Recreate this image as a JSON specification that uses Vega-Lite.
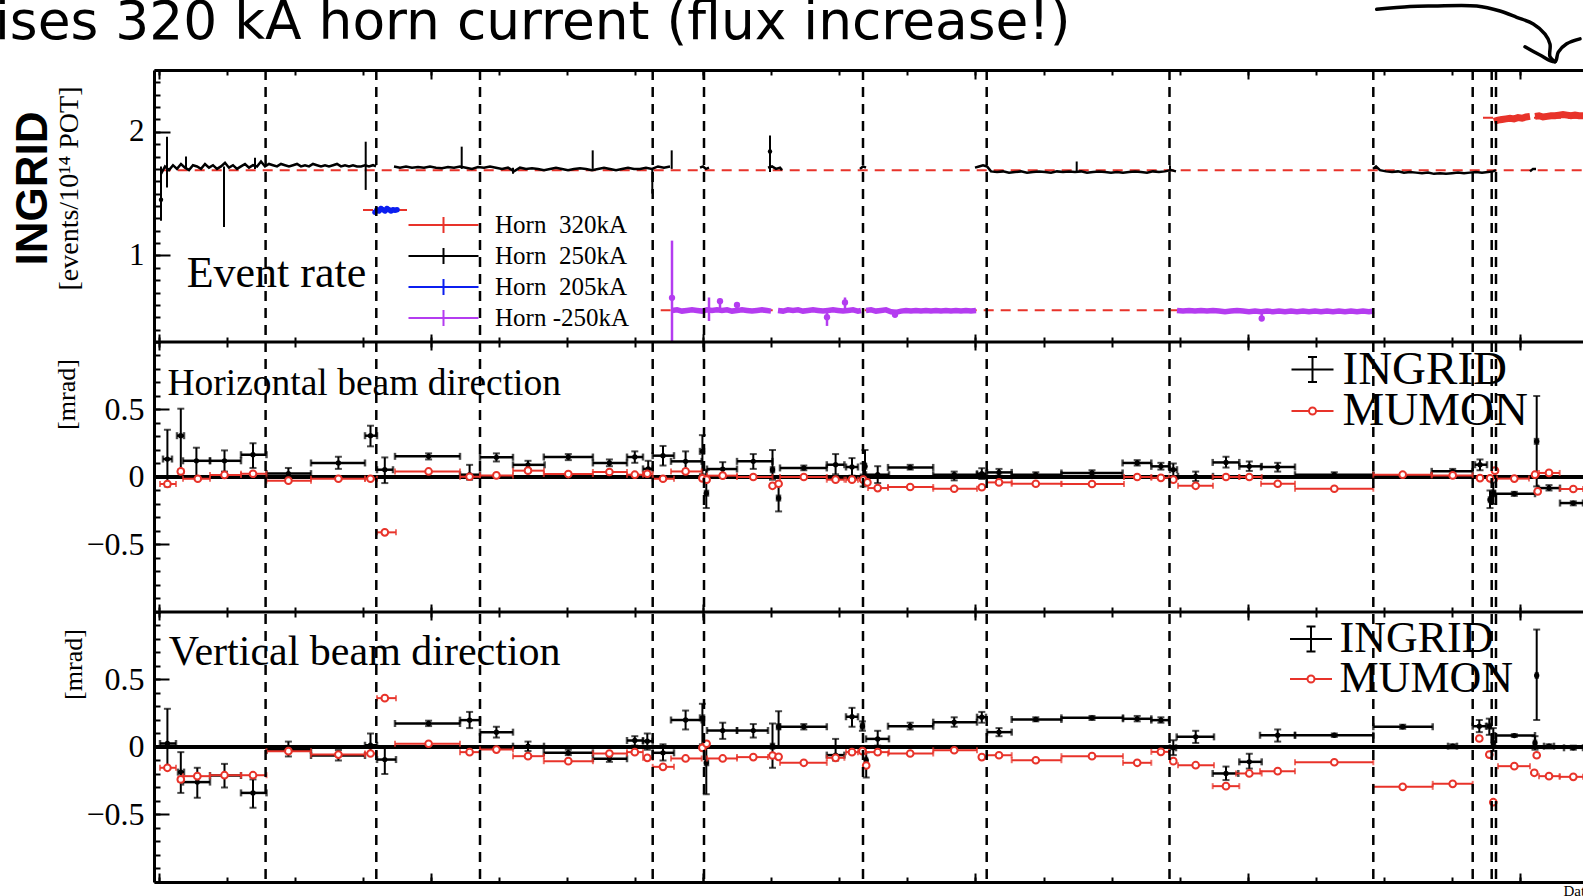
{
"$schema":"https://vega.github.io/schema/vega-lite/v6.json",
"width":1429,"height":812,
"autosize":{"type":"none"},
"padding":{"left":154,"top":70,"right":0,"bottom":14},
"background":"white",
"config":{"view":{"stroke":null},"axis":{"grid":false,"labelFont":"Liberation Serif","labelColor":"black","tickColor":"black","domainColor":"black","titleColor":"black"},"legend":{"labelFont":"Liberation Serif","labelColor":"black"}},
"datasets":{
"one":[{}],
"vlines":[{"day":111.6},{"day":222.3},{"day":326},{"day":498.7},{"day":550},{"day":709},{"day":832.7},{"day":1015.5},{"day":1219.3},{"day":1318.7},{"day":1337.7},{"day":1342}],
"levels":[{"day":6.7,"day2":1429,"rate":1.69},{"day":506.7,"day2":1220,"rate":0.557},{"day":209,"day2":253,"rate":1.368},{"day":1329,"day2":1429,"rate":2.114}],
"r250":[
{"seg":"A","day":7,"rate":1.66},{"seg":"A","day":11,"rate":1.72},{"seg":"A","day":15,"rate":1.69},{"seg":"A","day":19,"rate":1.73},{"seg":"A","day":23,"rate":1.70},{"seg":"A","day":27,"rate":1.74},{"seg":"A","day":31,"rate":1.71},{"seg":"A","day":35,"rate":1.69},{"seg":"A","day":39,"rate":1.73},{"seg":"A","day":43,"rate":1.72},{"seg":"A","day":47,"rate":1.70},{"seg":"A","day":51,"rate":1.74},{"seg":"A","day":55,"rate":1.71},{"seg":"A","day":59,"rate":1.73},{"seg":"A","day":63,"rate":1.70},{"seg":"A","day":67,"rate":1.72},{"seg":"A","day":71,"rate":1.75},{"seg":"A","day":75,"rate":1.71},{"seg":"A","day":79,"rate":1.73},{"seg":"A","day":83,"rate":1.70},{"seg":"A","day":87,"rate":1.72},{"seg":"A","day":91,"rate":1.74},{"seg":"A","day":95,"rate":1.71},{"seg":"A","day":99,"rate":1.73},{"seg":"A","day":103,"rate":1.72},{"seg":"A","day":107,"rate":1.76},{"seg":"A","day":111,"rate":1.72},{"seg":"A","day":115,"rate":1.74},{"seg":"A","day":119,"rate":1.73},{"seg":"A","day":123,"rate":1.72},{"seg":"A","day":127,"rate":1.74},{"seg":"A","day":131,"rate":1.73},{"seg":"A","day":135,"rate":1.72},{"seg":"A","day":139,"rate":1.73},{"seg":"A","day":143,"rate":1.74},{"seg":"A","day":147,"rate":1.72},{"seg":"A","day":151,"rate":1.73},{"seg":"A","day":155,"rate":1.72},{"seg":"A","day":159,"rate":1.74},{"seg":"A","day":163,"rate":1.73},{"seg":"A","day":167,"rate":1.72},{"seg":"A","day":171,"rate":1.73},{"seg":"A","day":175,"rate":1.72},{"seg":"A","day":179,"rate":1.73},{"seg":"A","day":183,"rate":1.74},{"seg":"A","day":187,"rate":1.72},{"seg":"A","day":191,"rate":1.73},{"seg":"A","day":195,"rate":1.72},{"seg":"A","day":199,"rate":1.73},{"seg":"A","day":203,"rate":1.72},{"seg":"A","day":207,"rate":1.72},{"seg":"A","day":211,"rate":1.73},{"seg":"A","day":215,"rate":1.72},{"seg":"A","day":219,"rate":1.73},{"seg":"A","day":222,"rate":1.72},
{"seg":"B","day":240,"rate":1.72},{"seg":"B","day":246,"rate":1.71},{"seg":"B","day":252,"rate":1.72},{"seg":"B","day":258,"rate":1.71},{"seg":"B","day":264,"rate":1.715},{"seg":"B","day":270,"rate":1.71},{"seg":"B","day":276,"rate":1.72},{"seg":"B","day":282,"rate":1.71},{"seg":"B","day":288,"rate":1.705},{"seg":"B","day":294,"rate":1.715},{"seg":"B","day":300,"rate":1.71},{"seg":"B","day":306,"rate":1.72},{"seg":"B","day":312,"rate":1.71},{"seg":"B","day":318,"rate":1.70},{"seg":"B","day":324,"rate":1.715},{"seg":"B","day":330,"rate":1.71},{"seg":"B","day":336,"rate":1.72},{"seg":"B","day":342,"rate":1.71},{"seg":"B","day":348,"rate":1.70},{"seg":"B","day":354,"rate":1.71},{"seg":"B","day":360,"rate":1.68},{"seg":"B","day":366,"rate":1.71},{"seg":"B","day":372,"rate":1.70},{"seg":"B","day":378,"rate":1.705},{"seg":"B","day":384,"rate":1.70},{"seg":"B","day":390,"rate":1.69},{"seg":"B","day":396,"rate":1.70},{"seg":"B","day":402,"rate":1.71},{"seg":"B","day":408,"rate":1.70},{"seg":"B","day":414,"rate":1.69},{"seg":"B","day":420,"rate":1.70},{"seg":"B","day":426,"rate":1.705},{"seg":"B","day":432,"rate":1.70},{"seg":"B","day":438,"rate":1.69},{"seg":"B","day":444,"rate":1.70},{"seg":"B","day":450,"rate":1.71},{"seg":"B","day":456,"rate":1.70},{"seg":"B","day":462,"rate":1.69},{"seg":"B","day":468,"rate":1.70},{"seg":"B","day":474,"rate":1.71},{"seg":"B","day":480,"rate":1.70},{"seg":"B","day":486,"rate":1.70},{"seg":"B","day":492,"rate":1.71},{"seg":"B","day":498,"rate":1.70},{"seg":"B","day":504,"rate":1.72},{"seg":"B","day":510,"rate":1.71},{"seg":"B","day":516,"rate":1.72},
{"seg":"C","day":546,"rate":1.71},{"seg":"C","day":549,"rate":1.72},{"seg":"C","day":552,"rate":1.70},{"seg":"C","day":555,"rate":1.71},
{"seg":"D","day":614,"rate":1.71},{"seg":"D","day":618,"rate":1.72},{"seg":"D","day":622,"rate":1.70},{"seg":"D","day":626,"rate":1.71},{"seg":"D","day":628,"rate":1.69},
{"seg":"E","day":706,"rate":1.70},{"seg":"E","day":709,"rate":1.72},{"seg":"E","day":712,"rate":1.71},
{"seg":"F","day":821,"rate":1.71},{"seg":"F","day":825,"rate":1.72},{"seg":"F","day":829,"rate":1.73},{"seg":"F","day":833,"rate":1.72},{"seg":"F","day":837,"rate":1.68},{"seg":"F","day":843,"rate":1.675},{"seg":"F","day":849,"rate":1.68},{"seg":"F","day":855,"rate":1.67},{"seg":"F","day":861,"rate":1.675},{"seg":"F","day":867,"rate":1.68},{"seg":"F","day":873,"rate":1.67},{"seg":"F","day":879,"rate":1.675},{"seg":"F","day":885,"rate":1.68},{"seg":"F","day":891,"rate":1.675},{"seg":"F","day":897,"rate":1.67},{"seg":"F","day":903,"rate":1.68},{"seg":"F","day":909,"rate":1.675},{"seg":"F","day":915,"rate":1.68},{"seg":"F","day":921,"rate":1.675},{"seg":"F","day":927,"rate":1.68},{"seg":"F","day":933,"rate":1.67},{"seg":"F","day":939,"rate":1.675},{"seg":"F","day":945,"rate":1.68},{"seg":"F","day":951,"rate":1.675},{"seg":"F","day":957,"rate":1.67},{"seg":"F","day":963,"rate":1.675},{"seg":"F","day":969,"rate":1.67},{"seg":"F","day":975,"rate":1.675},{"seg":"F","day":981,"rate":1.68},{"seg":"F","day":987,"rate":1.675},{"seg":"F","day":993,"rate":1.67},{"seg":"F","day":999,"rate":1.68},{"seg":"F","day":1005,"rate":1.675},{"seg":"F","day":1011,"rate":1.68},{"seg":"F","day":1017,"rate":1.69},{"seg":"F","day":1022,"rate":1.68},
{"seg":"G","day":1219,"rate":1.70},{"seg":"G","day":1222,"rate":1.72},{"seg":"G","day":1226,"rate":1.69},{"seg":"G","day":1232,"rate":1.68},{"seg":"G","day":1238,"rate":1.675},{"seg":"G","day":1244,"rate":1.68},{"seg":"G","day":1250,"rate":1.67},{"seg":"G","day":1256,"rate":1.675},{"seg":"G","day":1262,"rate":1.67},{"seg":"G","day":1268,"rate":1.665},{"seg":"G","day":1274,"rate":1.67},{"seg":"G","day":1280,"rate":1.66},{"seg":"G","day":1286,"rate":1.665},{"seg":"G","day":1292,"rate":1.66},{"seg":"G","day":1298,"rate":1.665},{"seg":"G","day":1304,"rate":1.67},{"seg":"G","day":1310,"rate":1.665},{"seg":"G","day":1316,"rate":1.67},{"seg":"G","day":1322,"rate":1.675},{"seg":"G","day":1328,"rate":1.67},{"seg":"G","day":1334,"rate":1.675},{"seg":"G","day":1339,"rate":1.68},{"seg":"G","day":1342,"rate":1.69},
{"seg":"H","day":1376,"rate":1.68},{"seg":"H","day":1379,"rate":1.70},{"seg":"H","day":1382,"rate":1.70}],
"sp250":[{"day":7,"lo":1.28,"hi":1.72},{"day":13,"lo":1.55,"hi":1.96},{"day":32,"lo":1.70,"hi":1.80},{"day":70,"lo":1.23,"hi":1.72},{"day":101,"lo":1.70,"hi":1.79},{"day":211.7,"lo":1.53,"hi":1.92},{"day":307.7,"lo":1.70,"hi":1.88},{"day":359,"lo":1.66,"hi":1.71},{"day":438.7,"lo":1.70,"hi":1.85},{"day":498.3,"lo":1.50,"hi":1.70},{"day":517.7,"lo":1.70,"hi":1.85},{"day":616,"lo":1.675,"hi":1.97},{"day":922.7,"lo":1.67,"hi":1.76},{"day":1016,"lo":1.68,"hi":1.73}],
"pt250":[{"day":7,"rate":1.45},{"day":616,"rate":1.84}],
"r205":[{"day":221,"rate":1.35},{"day":223,"rate":1.37},{"day":225,"rate":1.36},{"day":227,"rate":1.38},{"day":229,"rate":1.37},{"day":231,"rate":1.36},{"day":233,"rate":1.38},{"day":235,"rate":1.37},{"day":237,"rate":1.36},{"day":239,"rate":1.37},{"day":241,"rate":1.365},{"day":243,"rate":1.37}],
"rm250":[
{"seg":"P1","day":518,"rate":0.555},{"seg":"P1","day":523,"rate":0.56},{"seg":"P1","day":528,"rate":0.55},{"seg":"P1","day":533,"rate":0.555},{"seg":"P1","day":538,"rate":0.56},{"seg":"P1","day":543,"rate":0.555},{"seg":"P1","day":548,"rate":0.55},{"seg":"P1","day":553,"rate":0.56},{"seg":"P1","day":558,"rate":0.555},{"seg":"P1","day":563,"rate":0.56},{"seg":"P1","day":568,"rate":0.555},{"seg":"P1","day":573,"rate":0.56},{"seg":"P1","day":578,"rate":0.55},{"seg":"P1","day":583,"rate":0.555},{"seg":"P1","day":588,"rate":0.56},{"seg":"P1","day":593,"rate":0.555},{"seg":"P1","day":598,"rate":0.55},{"seg":"P1","day":603,"rate":0.555},{"seg":"P1","day":608,"rate":0.56},{"seg":"P1","day":613,"rate":0.555},{"seg":"P1","day":617,"rate":0.55},
{"seg":"P2","day":624,"rate":0.555},{"seg":"P2","day":629,"rate":0.55},{"seg":"P2","day":634,"rate":0.56},{"seg":"P2","day":639,"rate":0.555},{"seg":"P2","day":644,"rate":0.56},{"seg":"P2","day":649,"rate":0.55},{"seg":"P2","day":654,"rate":0.555},{"seg":"P2","day":659,"rate":0.56},{"seg":"P2","day":664,"rate":0.555},{"seg":"P2","day":669,"rate":0.55},{"seg":"P2","day":674,"rate":0.555},{"seg":"P2","day":679,"rate":0.56},{"seg":"P2","day":684,"rate":0.555},{"seg":"P2","day":689,"rate":0.55},{"seg":"P2","day":694,"rate":0.555},{"seg":"P2","day":699,"rate":0.56},{"seg":"P2","day":704,"rate":0.55},{"seg":"P2","day":707,"rate":0.555},
{"seg":"P3","day":712,"rate":0.555},{"seg":"P3","day":717,"rate":0.56},{"seg":"P3","day":722,"rate":0.55},{"seg":"P3","day":727,"rate":0.555},{"seg":"P3","day":732,"rate":0.56},{"seg":"P3","day":737,"rate":0.545},{"seg":"P3","day":742,"rate":0.54},{"seg":"P3","day":747,"rate":0.55},{"seg":"P3","day":752,"rate":0.555},{"seg":"P3","day":757,"rate":0.55},{"seg":"P3","day":762,"rate":0.555},{"seg":"P3","day":767,"rate":0.55},{"seg":"P3","day":772,"rate":0.555},{"seg":"P3","day":777,"rate":0.55},{"seg":"P3","day":782,"rate":0.555},{"seg":"P3","day":787,"rate":0.55},{"seg":"P3","day":792,"rate":0.555},{"seg":"P3","day":797,"rate":0.55},{"seg":"P3","day":802,"rate":0.555},{"seg":"P3","day":807,"rate":0.55},{"seg":"P3","day":812,"rate":0.555},{"seg":"P3","day":817,"rate":0.55},{"seg":"P3","day":822,"rate":0.555},
{"seg":"P4","day":1023,"rate":0.555},{"seg":"P4","day":1029,"rate":0.55},{"seg":"P4","day":1035,"rate":0.555},{"seg":"P4","day":1041,"rate":0.55},{"seg":"P4","day":1047,"rate":0.555},{"seg":"P4","day":1053,"rate":0.55},{"seg":"P4","day":1059,"rate":0.555},{"seg":"P4","day":1065,"rate":0.55},{"seg":"P4","day":1071,"rate":0.545},{"seg":"P4","day":1077,"rate":0.55},{"seg":"P4","day":1083,"rate":0.555},{"seg":"P4","day":1089,"rate":0.55},{"seg":"P4","day":1095,"rate":0.545},{"seg":"P4","day":1101,"rate":0.55},{"seg":"P4","day":1107,"rate":0.545},{"seg":"P4","day":1113,"rate":0.55},{"seg":"P4","day":1119,"rate":0.545},{"seg":"P4","day":1125,"rate":0.55},{"seg":"P4","day":1131,"rate":0.545},{"seg":"P4","day":1137,"rate":0.55},{"seg":"P4","day":1143,"rate":0.545},{"seg":"P4","day":1149,"rate":0.55},{"seg":"P4","day":1155,"rate":0.545},{"seg":"P4","day":1161,"rate":0.55},{"seg":"P4","day":1167,"rate":0.545},{"seg":"P4","day":1173,"rate":0.55},{"seg":"P4","day":1179,"rate":0.545},{"seg":"P4","day":1185,"rate":0.55},{"seg":"P4","day":1191,"rate":0.545},{"seg":"P4","day":1197,"rate":0.55},{"seg":"P4","day":1203,"rate":0.545},{"seg":"P4","day":1209,"rate":0.55},{"seg":"P4","day":1215,"rate":0.545},{"seg":"P4","day":1220,"rate":0.55}],
"spm250":[{"day":518,"lo":0.3,"hi":1.12},{"day":555,"lo":0.47,"hi":0.66},{"day":566,"lo":0.56,"hi":0.65},{"day":673,"lo":0.43,"hi":0.555},{"day":691,"lo":0.555,"hi":0.66},{"day":1107.7,"lo":0.47,"hi":0.55}],
"ptm250":[{"day":518,"rate":0.657},{"day":566,"rate":0.63},{"day":583,"rate":0.6},{"day":673,"rate":0.50},{"day":691,"rate":0.62},{"day":741,"rate":0.52},{"day":1107.7,"rate":0.49}],
"r320":[{"seg":"R1","day":1340,"rate":2.085},{"seg":"R1","day":1344,"rate":2.095},{"seg":"R1","day":1348,"rate":2.10},{"seg":"R1","day":1352,"rate":2.105},{"seg":"R1","day":1356,"rate":2.11},{"seg":"R1","day":1360,"rate":2.105},{"seg":"R1","day":1364,"rate":2.115},{"seg":"R1","day":1368,"rate":2.11},{"seg":"R1","day":1372,"rate":2.12},{"seg":"R1","day":1376,"rate":2.125},{"seg":"R2","day":1381,"rate":2.125},{"seg":"R2","day":1385,"rate":2.13},{"seg":"R2","day":1389,"rate":2.12},{"seg":"R2","day":1393,"rate":2.125},{"seg":"R2","day":1397,"rate":2.13},{"seg":"R2","day":1401,"rate":2.13},{"seg":"R2","day":1405,"rate":2.135},{"seg":"R2","day":1409,"rate":2.14},{"seg":"R2","day":1413,"rate":2.135},{"seg":"R2","day":1417,"rate":2.13},{"seg":"R2","day":1421,"rate":2.135},{"seg":"R2","day":1425,"rate":2.13},{"seg":"R2","day":1429,"rate":2.13}],
"horns":[{"horn":"Horn\u00a0 320kA"},{"horn":"Horn\u00a0 250kA"},{"horn":"Horn\u00a0 205kA"},{"horn":"Horn -250kA"}],
"dets":[{"detector":"INGRID"},{"detector":"MUMON"}],
"arrow":[{"part":"a","k":0,"day":1222.7,"rate":2.991},{"part":"a","k":1,"day":1256,"rate":3.014},{"part":"a","k":2,"day":1279.3,"rate":3.018},{"part":"a","k":3,"day":1322.7,"rate":3.018},{"part":"a","k":4,"day":1346,"rate":2.977},{"part":"a","k":5,"day":1362.7,"rate":2.926},{"part":"a","k":6,"day":1379.3,"rate":2.872},{"part":"a","k":7,"day":1391,"rate":2.79},{"part":"a","k":8,"day":1396,"rate":2.71},{"part":"a","k":9,"day":1396,"rate":2.608},{"part":"a","k":10,"day":1401,"rate":2.567},{"part":"b","k":0,"day":1371,"rate":2.688},{"part":"b","k":1,"day":1386,"rate":2.621},{"part":"b","k":2,"day":1401,"rate":2.567},{"part":"b","k":3,"day":1404.3,"rate":2.645},{"part":"b","k":4,"day":1412.7,"rate":2.712},{"part":"b","k":5,"day":1426,"rate":2.752}],
"h_ing":[
{"day":13.4,"lo":9,"hi":18,"val":0.133,"vlo":-0.07,"vhi":0.35},{"day":26.8,"lo":23,"hi":30,"val":0.306,"vlo":0.0,"vhi":0.506},{"day":42.4,"lo":29,"hi":56,"val":0.12,"vlo":0.0,"vhi":0.217},{"day":70.5,"lo":56,"hi":87,"val":0.12,"vlo":0.04,"vhi":0.197},{"day":99,"lo":87,"hi":112.5,"val":0.165,"vlo":0.067,"vhi":0.25},{"day":134.4,"lo":112.5,"hi":157,"val":0.025,"vlo":-0.008,"vhi":0.067},{"day":184.4,"lo":157,"hi":211,"val":0.104,"vlo":0.06,"vhi":0.15},{"day":216.5,"lo":211,"hi":223,"val":0.306,"vlo":0.227,"vhi":0.38},{"day":230.8,"lo":223,"hi":239,"val":0.054,"vlo":-0.045,"vhi":0.145},{"day":274.6,"lo":241,"hi":306,"val":0.153,"vlo":0.13,"vhi":0.175},{"day":315.6,"lo":306,"hi":326,"val":0.017,"vlo":-0.02,"vhi":0.09},{"day":342.4,"lo":326,"hi":359,"val":0.146,"vlo":0.115,"vhi":0.175},{"day":374,"lo":359,"hi":390.6,"val":0.09,"vlo":0.06,"vhi":0.12},{"day":414.3,"lo":389.8,"hi":438.9,"val":0.148,"vlo":0.125,"vhi":0.17},{"day":455.4,"lo":438.9,"hi":473,"val":0.104,"vlo":0.08,"vhi":0.13},{"day":480.8,"lo":473,"hi":489,"val":0.148,"vlo":0.105,"vhi":0.19},{"day":494.2,"lo":489,"hi":498.7,"val":0.06,"vlo":0.0,"vhi":0.12},{"day":509,"lo":498.7,"hi":520,"val":0.158,"vlo":0.085,"vhi":0.23},{"day":531.6,"lo":517,"hi":547.7,"val":0.116,"vlo":0.055,"vhi":0.19},{"day":548.4,"lo":546,"hi":550,"val":0.19,"vlo":0.02,"vhi":0.31},{"day":552.3,"lo":551,"hi":554,"val":-0.12,"vlo":-0.23,"vhi":0.054},{"day":568.7,"lo":553,"hi":583,"val":0.059,"vlo":0.0,"vhi":0.11},{"day":599.3,"lo":583,"hi":618.5,"val":0.116,"vlo":0.06,"vhi":0.17},{"day":618.5,"lo":617,"hi":620,"val":0.054,"vlo":-0.02,"vhi":0.2},{"day":624.6,"lo":623,"hi":626,"val":-0.156,"vlo":-0.255,"vhi":-0.057},{"day":649.8,"lo":626,"hi":672.8,"val":0.067,"vlo":0.05,"vhi":0.085},{"day":681.6,"lo":672.8,"hi":690.4,"val":0.091,"vlo":0.02,"vhi":0.17},{"day":698,"lo":692,"hi":704,"val":0.074,"vlo":0.01,"vhi":0.14},{"day":709.2,"lo":707,"hi":711,"val":0.0,"vlo":-0.07,"vhi":0.1},{"day":711,"lo":710,"hi":712,"val":0.079,"vlo":0.0,"vhi":0.2},{"day":723.7,"lo":712,"hi":735,"val":0.017,"vlo":-0.045,"vhi":0.08},{"day":756.2,"lo":734,"hi":779.2,"val":0.071,"vlo":0.055,"vhi":0.09},{"day":800.2,"lo":779.2,"hi":823,"val":0.017,"vlo":-0.025,"vhi":0.04},{"day":827.8,"lo":823,"hi":832,"val":0.024,"vlo":-0.015,"vhi":0.065},{"day":845,"lo":833,"hi":857.7,"val":0.034,"vlo":0.01,"vhi":0.06},{"day":881.8,"lo":857.7,"hi":907.4,"val":0.017,"vlo":0.0,"vhi":0.035},{"day":938,"lo":907.4,"hi":968.6,"val":0.03,"vlo":0.01,"vhi":0.05},{"day":983.2,"lo":968.6,"hi":997.3,"val":0.104,"vlo":0.085,"vhi":0.125},{"day":1006.9,"lo":997.3,"hi":1015,"val":0.079,"vlo":0.055,"vhi":0.105},{"day":1019.3,"lo":1016,"hi":1023,"val":0.054,"vlo":0.0,"vhi":0.1},{"day":1041.7,"lo":1024,"hi":1059,"val":0.005,"vlo":-0.03,"vhi":0.04},{"day":1072,"lo":1058.7,"hi":1085.3,"val":0.108,"vlo":0.07,"vhi":0.15},{"day":1095.3,"lo":1085.3,"hi":1107.7,"val":0.079,"vlo":0.045,"vhi":0.115},{"day":1123.7,"lo":1107,"hi":1141,"val":0.074,"vlo":0.04,"vhi":0.105},{"day":1180.3,"lo":1141,"hi":1219.3,"val":0.017,"vlo":0.0,"vhi":0.035},{"day":1248.7,"lo":1219.3,"hi":1277.7,"val":0.012,"vlo":0.0,"vhi":0.03},{"day":1298.7,"lo":1277.7,"hi":1318.7,"val":0.042,"vlo":0.025,"vhi":0.06},{"day":1326,"lo":1321,"hi":1333,"val":0.091,"vlo":0.05,"vhi":0.13},{"day":1336,"lo":1335,"hi":1337,"val":-0.168,"vlo":-0.23,"vhi":-0.1},{"day":1339.3,"lo":1338,"hi":1341,"val":-0.119,"vlo":-0.2,"vhi":-0.04},{"day":1360.3,"lo":1341,"hi":1381,"val":-0.124,"vlo":-0.14,"vhi":-0.11},{"day":1382.7,"lo":1381,"hi":1384,"val":0.264,"vlo":-0.07,"vhi":0.6},{"day":1395,"lo":1384,"hi":1406,"val":-0.082,"vlo":-0.1,"vhi":-0.06},{"day":1419.3,"lo":1406,"hi":1429,"val":-0.193,"vlo":-0.21,"vhi":-0.18}],
"h_mum":[
{"day":13.4,"lo":6,"hi":22,"val":-0.052},{"day":26.8,"lo":24,"hi":29.6,"val":0.041},{"day":43.8,"lo":29,"hi":56,"val":-0.013},{"day":70.5,"lo":56,"hi":87,"val":0.015},{"day":99,"lo":87,"hi":112.5,"val":0.024},{"day":134.4,"lo":112.5,"hi":157,"val":-0.027},{"day":184.4,"lo":157,"hi":211,"val":-0.013},{"day":216.5,"lo":211,"hi":223,"val":-0.013},{"day":230.8,"lo":223,"hi":242,"val":-0.41},{"day":274.6,"lo":241,"hi":306,"val":0.041},{"day":315.6,"lo":306,"hi":326,"val":0.002},{"day":342.4,"lo":326,"hi":359,"val":0.012},{"day":374,"lo":359,"hi":390,"val":0.047},{"day":414.3,"lo":389.8,"hi":438.9,"val":0.022},{"day":455.4,"lo":438.9,"hi":473,"val":0.037},{"day":480.8,"lo":473,"hi":489,"val":0.017},{"day":493.3,"lo":489,"hi":498.7,"val":0.024},{"day":509,"lo":498.7,"hi":520,"val":-0.013},{"day":531.6,"lo":517,"hi":547.7,"val":0.041},{"day":548.4,"lo":546.4,"hi":550.4,"val":-0.01},{"day":552.6,"lo":550.6,"hi":554.6,"val":-0.02},{"day":568.7,"lo":553,"hi":583,"val":0.01},{"day":599.3,"lo":583,"hi":618.5,"val":0.0},{"day":618.5,"lo":616.5,"hi":620.5,"val":-0.065},{"day":624.6,"lo":622.6,"hi":626.6,"val":-0.05},{"day":649.8,"lo":626,"hi":672.8,"val":0.0},{"day":681.6,"lo":672.8,"hi":690.4,"val":-0.02},{"day":698,"lo":692,"hi":704,"val":-0.02},{"day":709.2,"lo":707.2,"hi":711.2,"val":-0.02},{"day":713.4,"lo":711.4,"hi":715.4,"val":-0.04},{"day":723.7,"lo":714,"hi":734,"val":-0.082},{"day":756.2,"lo":734,"hi":779.2,"val":-0.074},{"day":800.2,"lo":779.2,"hi":823,"val":-0.087},{"day":827.8,"lo":825.8,"hi":829.8,"val":-0.076},{"day":845,"lo":833,"hi":857.7,"val":-0.04},{"day":881.8,"lo":857.7,"hi":907.4,"val":-0.05},{"day":938,"lo":907.4,"hi":970,"val":-0.052},{"day":983.2,"lo":970,"hi":997.3,"val":0.0},{"day":1006.9,"lo":997.3,"hi":1015,"val":-0.006},{"day":1019.3,"lo":1017.3,"hi":1021.3,"val":-0.02},{"day":1041.7,"lo":1024,"hi":1059,"val":-0.065},{"day":1072,"lo":1058.7,"hi":1085.3,"val":0.0},{"day":1095.3,"lo":1085.3,"hi":1107.7,"val":0.0},{"day":1123.7,"lo":1107,"hi":1141,"val":-0.05},{"day":1180.3,"lo":1141,"hi":1219.3,"val":-0.087},{"day":1248.7,"lo":1219.3,"hi":1277.7,"val":0.017},{"day":1298.7,"lo":1277.7,"hi":1318.7,"val":0.012},{"day":1326,"lo":1324,"hi":1328,"val":-0.008},{"day":1336,"lo":1334,"hi":1338,"val":-0.01},{"day":1341,"lo":1339,"hi":1343,"val":0.047},{"day":1360.3,"lo":1343,"hi":1375,"val":-0.012},{"day":1381,"lo":1379,"hi":1383,"val":0.017},{"day":1383.7,"lo":1381.7,"hi":1385.7,"val":-0.107},{"day":1395,"lo":1385,"hi":1405.7,"val":0.03},{"day":1419.3,"lo":1405.7,"hi":1429,"val":-0.089}],
"v_ing":[
{"day":13.4,"lo":6,"hi":22,"val":0.026,"vlo":-0.154,"vhi":0.283},{"day":26.8,"lo":24,"hi":30,"val":-0.186,"vlo":-0.34,"vhi":-0.038},{"day":43.3,"lo":29,"hi":56,"val":-0.26,"vlo":-0.376,"vhi":-0.154},{"day":70.5,"lo":56,"hi":87,"val":-0.211,"vlo":-0.3,"vhi":-0.125},{"day":99,"lo":87,"hi":112.5,"val":-0.34,"vlo":-0.45,"vhi":-0.24},{"day":134.4,"lo":112.5,"hi":157,"val":-0.025,"vlo":-0.07,"vhi":0.04},{"day":184.4,"lo":157,"hi":211,"val":-0.063,"vlo":-0.1,"vhi":-0.022},{"day":216.5,"lo":211,"hi":223,"val":0.013,"vlo":-0.04,"vhi":0.1},{"day":230.8,"lo":223,"hi":242,"val":-0.093,"vlo":-0.2,"vhi":0.0},{"day":274.6,"lo":241,"hi":306,"val":0.174,"vlo":0.155,"vhi":0.195},{"day":315.6,"lo":306,"hi":326,"val":0.199,"vlo":0.14,"vhi":0.26},{"day":342.4,"lo":326,"hi":359,"val":0.11,"vlo":0.07,"vhi":0.15},{"day":374,"lo":359,"hi":390,"val":0.006,"vlo":-0.03,"vhi":0.04},{"day":414.3,"lo":389.8,"hi":438.9,"val":-0.043,"vlo":-0.06,"vhi":-0.02},{"day":455.4,"lo":438.9,"hi":473,"val":-0.087,"vlo":-0.11,"vhi":-0.065},{"day":480.8,"lo":473,"hi":489,"val":0.048,"vlo":0.01,"vhi":0.08},{"day":493.3,"lo":489,"hi":498.7,"val":0.043,"vlo":-0.02,"vhi":0.1},{"day":509,"lo":498.7,"hi":520,"val":-0.043,"vlo":-0.1,"vhi":0.02},{"day":531.6,"lo":517,"hi":547.7,"val":0.2,"vlo":0.13,"vhi":0.27},{"day":548.4,"lo":546,"hi":550,"val":0.216,"vlo":0.02,"vhi":0.32},{"day":552.3,"lo":551,"hi":554,"val":-0.117,"vlo":-0.35,"vhi":0.006},{"day":568.7,"lo":553,"hi":583,"val":0.122,"vlo":0.06,"vhi":0.18},{"day":599.3,"lo":583,"hi":614,"val":0.122,"vlo":0.07,"vhi":0.17},{"day":618.5,"lo":617,"hi":620,"val":0.006,"vlo":-0.154,"vhi":0.174},{"day":624.6,"lo":623,"hi":626,"val":0.15,"vlo":0.006,"vhi":0.265},{"day":649.8,"lo":626,"hi":672.8,"val":0.15,"vlo":0.13,"vhi":0.17},{"day":681.6,"lo":672.8,"hi":690.4,"val":-0.06,"vlo":-0.1,"vhi":0.06},{"day":698,"lo":692,"hi":704,"val":0.224,"vlo":0.15,"vhi":0.29},{"day":708.4,"lo":707,"hi":710,"val":0.154,"vlo":0.12,"vhi":0.19},{"day":712.2,"lo":711,"hi":713,"val":-0.098,"vlo":-0.226,"vhi":-0.04},{"day":723.7,"lo":712,"hi":735,"val":0.06,"vlo":0.01,"vhi":0.12},{"day":756.2,"lo":734,"hi":779.2,"val":0.154,"vlo":0.13,"vhi":0.18},{"day":800.2,"lo":779.2,"hi":823,"val":0.184,"vlo":0.15,"vhi":0.22},{"day":827.8,"lo":823,"hi":832,"val":0.221,"vlo":0.18,"vhi":0.26},{"day":845,"lo":833,"hi":857.7,"val":0.11,"vlo":0.08,"vhi":0.14},{"day":881.8,"lo":857.7,"hi":907.4,"val":0.204,"vlo":0.19,"vhi":0.22},{"day":938,"lo":907.4,"hi":969,"val":0.216,"vlo":0.2,"vhi":0.23},{"day":983.2,"lo":969,"hi":997.3,"val":0.209,"vlo":0.19,"vhi":0.23},{"day":1006.9,"lo":997.3,"hi":1015,"val":0.199,"vlo":0.18,"vhi":0.22},{"day":1019.3,"lo":1016,"hi":1022,"val":-0.006,"vlo":-0.06,"vhi":0.05},{"day":1041.7,"lo":1022.7,"hi":1060,"val":0.075,"vlo":0.03,"vhi":0.12},{"day":1072,"lo":1058.7,"hi":1084.3,"val":-0.196,"vlo":-0.245,"vhi":-0.145},{"day":1095.3,"lo":1085.3,"hi":1107.7,"val":-0.11,"vlo":-0.16,"vhi":-0.05},{"day":1123.7,"lo":1106,"hi":1141,"val":0.087,"vlo":0.04,"vhi":0.13},{"day":1180.3,"lo":1141,"hi":1219.3,"val":0.087,"vlo":0.075,"vhi":0.1},{"day":1248.7,"lo":1219.3,"hi":1278.7,"val":0.15,"vlo":0.135,"vhi":0.165},{"day":1298.7,"lo":1294,"hi":1303,"val":0.006,"vlo":-0.01,"vhi":0.02},{"day":1325.3,"lo":1318.7,"hi":1332,"val":0.154,"vlo":0.11,"vhi":0.2},{"day":1335.3,"lo":1333,"hi":1337,"val":0.154,"vlo":0.09,"vhi":0.21},{"day":1339.3,"lo":1338,"hi":1341,"val":0.03,"vlo":-0.03,"vhi":0.14},{"day":1360.3,"lo":1341,"hi":1381,"val":0.085,"vlo":0.075,"vhi":0.095},{"day":1381,"lo":1380,"hi":1382,"val":0.03,"vlo":-0.02,"vhi":0.08},{"day":1382.7,"lo":1382,"hi":1383.5,"val":0.53,"vlo":0.2,"vhi":0.87},{"day":1395,"lo":1390,"hi":1400,"val":0.006,"vlo":-0.01,"vhi":0.02},{"day":1419.3,"lo":1410,"hi":1429,"val":-0.006,"vlo":-0.02,"vhi":0.01}],
"v_mum":[
{"day":13.4,"lo":6,"hi":22,"val":-0.154},{"day":26.8,"lo":24,"hi":29.6,"val":-0.24},{"day":43.3,"lo":29,"hi":56,"val":-0.216},{"day":70.5,"lo":56,"hi":87,"val":-0.209},{"day":99,"lo":87,"hi":112.5,"val":-0.209},{"day":134.4,"lo":112.5,"hi":157,"val":-0.031},{"day":184.4,"lo":157,"hi":211,"val":-0.056},{"day":216.5,"lo":211,"hi":223,"val":-0.048},{"day":230.8,"lo":223,"hi":242,"val":0.362},{"day":274.6,"lo":241,"hi":306,"val":0.024},{"day":315.6,"lo":306,"hi":326,"val":-0.038},{"day":342.4,"lo":326,"hi":359,"val":-0.019},{"day":374,"lo":359,"hi":390,"val":-0.068},{"day":414.3,"lo":389.8,"hi":438.9,"val":-0.105},{"day":455.4,"lo":438.9,"hi":473,"val":-0.048},{"day":480.8,"lo":473,"hi":489,"val":-0.038},{"day":493.3,"lo":489,"hi":498.7,"val":-0.08},{"day":509,"lo":498.7,"hi":520,"val":-0.147},{"day":531.6,"lo":517,"hi":547.7,"val":-0.085},{"day":548.4,"lo":546.4,"hi":550.4,"val":-0.006},{"day":552.6,"lo":550.6,"hi":554.6,"val":0.024},{"day":568.7,"lo":553,"hi":583,"val":-0.085},{"day":599.3,"lo":583,"hi":614,"val":-0.075},{"day":618.5,"lo":616.5,"hi":620.5,"val":-0.063},{"day":624.6,"lo":622.6,"hi":626.6,"val":-0.073},{"day":649.8,"lo":626,"hi":672.8,"val":-0.117},{"day":681.6,"lo":672.8,"hi":690.4,"val":-0.08},{"day":698,"lo":692,"hi":704,"val":-0.038},{"day":708.4,"lo":706.4,"hi":710.4,"val":-0.031},{"day":712.2,"lo":710.2,"hi":714.2,"val":-0.137},{"day":723.7,"lo":712,"hi":735,"val":-0.038},{"day":756.2,"lo":734,"hi":779.2,"val":-0.048},{"day":800.2,"lo":779.2,"hi":823,"val":-0.024},{"day":827.8,"lo":825.8,"hi":829.8,"val":-0.075},{"day":845,"lo":833,"hi":857.7,"val":-0.061},{"day":881.8,"lo":857.7,"hi":907.4,"val":-0.098},{"day":938,"lo":907.4,"hi":969,"val":-0.068},{"day":983.2,"lo":969,"hi":997.3,"val":-0.117},{"day":1006.9,"lo":997.3,"hi":1015,"val":-0.036},{"day":1019.3,"lo":1017.3,"hi":1021.3,"val":-0.105},{"day":1041.7,"lo":1024,"hi":1060,"val":-0.135},{"day":1072,"lo":1058.7,"hi":1085.3,"val":-0.29},{"day":1095.3,"lo":1082,"hi":1107.7,"val":-0.196},{"day":1123.7,"lo":1106,"hi":1141,"val":-0.179},{"day":1180.3,"lo":1141,"hi":1219.3,"val":-0.113},{"day":1248.7,"lo":1219.3,"hi":1278.7,"val":-0.295},{"day":1298.7,"lo":1278.7,"hi":1318.7,"val":-0.273},{"day":1325.3,"lo":1323.3,"hi":1327.3,"val":0.063},{"day":1335.3,"lo":1333.3,"hi":1337.3,"val":-0.056},{"day":1339.3,"lo":1337.3,"hi":1341.3,"val":-0.409},{"day":1360.3,"lo":1344,"hi":1376,"val":-0.142},{"day":1380.3,"lo":1378.3,"hi":1382.3,"val":-0.191},{"day":1382.7,"lo":1380.7,"hi":1384.7,"val":-0.061},{"day":1395,"lo":1385,"hi":1405.7,"val":-0.216},{"day":1419.3,"lo":1405.7,"hi":1429,"val":-0.221}]
},
"layer":[
{"layer":[
 {"data":{"name":"levels"},"mark":{"type":"rule","color":"#e8332a","strokeWidth":2,"strokeDash":[10,7]},
  "encoding":{"x":{"field":"day","type":"quantitative","scale":{"domain":[0,1429],"nice":false,"zero":false},"axis":null},"x2":{"field":"day2"},
   "y":{"field":"rate","type":"quantitative","scale":{"domain":[-4.0676,2.5],"nice":false,"zero":false},
    "axis":{"orient":"left","values":[1,2],"format":"d","domain":true,"domainWidth":3,"tickSize":-16,"tickWidth":2,"labels":true,"labelFontSize":31,"labelPadding":26,"title":"[events/10¹⁴ POT]","titleFont":"Liberation Serif","titleFontSize":28,"titleFontWeight":"normal","titleAngle":270,"titleX":-85,"titleY":118,"titleAlign":"center","titleBaseline":"middle"}}}},
 {"data":{"name":"sp250"},"mark":{"type":"rule","color":"black","strokeWidth":2},
  "encoding":{"x":{"field":"day","type":"quantitative","scale":{"domain":[0,1429],"nice":false,"zero":false},"axis":null},
   "y":{"field":"lo","type":"quantitative","scale":{"domain":[-4.0676,2.5],"nice":false,"zero":false},
    "axis":{"orient":"left","values":[0.3,0.4,0.5,0.6,0.7,0.8,0.9,1,1.1,1.2,1.3,1.4,1.5,1.6,1.7,1.8,1.9,2,2.1,2.2,2.3,2.4,2.5],"domain":false,"tickSize":-6,"tickWidth":2,"labels":false,"title":"INGRID","titleFont":"Liberation Sans","titleFontSize":44,"titleFontWeight":"bold","titleAngle":270,"titleX":-121,"titleY":118,"titleAlign":"center","titleBaseline":"middle"}},
   "y2":{"field":"hi"}}},
 {"data":{"name":"r250"},"mark":{"type":"line","color":"black","strokeWidth":2.5},
  "encoding":{"x":{"field":"day","type":"quantitative","scale":{"domain":[0,1429],"nice":false,"zero":false},"axis":null},
   "y":{"field":"rate","type":"quantitative","scale":{"domain":[-4.0676,2.5],"nice":false,"zero":false},"axis":null},"detail":{"field":"seg"}}},
 {"data":{"name":"pt250"},"mark":{"type":"point","filled":true,"color":"black","size":20,"opacity":1},
  "encoding":{"x":{"field":"day","type":"quantitative","scale":{"domain":[0,1429],"nice":false,"zero":false},"axis":null},
   "y":{"field":"rate","type":"quantitative","scale":{"domain":[-4.0676,2.5],"nice":false,"zero":false},"axis":null}}},
 {"data":{"name":"r205"},"mark":{"type":"line","color":"#0b1ef0","strokeWidth":4,"point":{"filled":true,"size":30,"color":"#0b1ef0","opacity":1}},
  "encoding":{"x":{"field":"day","type":"quantitative","scale":{"domain":[0,1429],"nice":false,"zero":false},"axis":null},
   "y":{"field":"rate","type":"quantitative","scale":{"domain":[-4.0676,2.5],"nice":false,"zero":false},"axis":null}}},
 {"data":{"name":"spm250"},"mark":{"type":"rule","color":"#b43cf0","strokeWidth":2.5},
  "encoding":{"x":{"field":"day","type":"quantitative","scale":{"domain":[0,1429],"nice":false,"zero":false},"axis":null},
   "y":{"field":"lo","type":"quantitative","scale":{"domain":[-4.0676,2.5],"nice":false,"zero":false},"axis":null},"y2":{"field":"hi"}}},
 {"data":{"name":"rm250"},"mark":{"type":"line","color":"#b43cf0","strokeWidth":5.5},
  "encoding":{"x":{"field":"day","type":"quantitative","scale":{"domain":[0,1429],"nice":false,"zero":false},"axis":null},
   "y":{"field":"rate","type":"quantitative","scale":{"domain":[-4.0676,2.5],"nice":false,"zero":false},"axis":null},"detail":{"field":"seg"}}},
 {"data":{"name":"ptm250"},"mark":{"type":"point","filled":true,"color":"#b43cf0","size":40,"opacity":1},
  "encoding":{"x":{"field":"day","type":"quantitative","scale":{"domain":[0,1429],"nice":false,"zero":false},"axis":null},
   "y":{"field":"rate","type":"quantitative","scale":{"domain":[-4.0676,2.5],"nice":false,"zero":false},"axis":null}}},
 {"data":{"name":"r320"},"mark":{"type":"line","color":"#e8332a","strokeWidth":7},
  "encoding":{"x":{"field":"day","type":"quantitative","scale":{"domain":[0,1429],"nice":false,"zero":false},"axis":null},
   "y":{"field":"rate","type":"quantitative","scale":{"domain":[-4.0676,2.5],"nice":false,"zero":false},"axis":null},"detail":{"field":"seg"}}},
 {"data":{"name":"horns"},"mark":{"type":"point","clip":true,"filled":false,"strokeWidth":2,"opacity":1},
  "encoding":{"x":{"datum":-300,"type":"quantitative","scale":{"domain":[0,1429],"nice":false,"zero":false},"axis":null},
   "y":{"datum":1,"type":"quantitative","scale":{"domain":[-4.0676,2.5],"nice":false,"zero":false},"axis":null},
   "color":{"field":"horn","type":"nominal","sort":null,"scale":{"domain":["Horn\u00a0 320kA","Horn\u00a0 250kA","Horn\u00a0 205kA","Horn -250kA"],"range":["#e8332a","black","#0b1ef0","#b43cf0"]},
    "legend":{"orient":"none","legendX":277,"legendY":142.5,"title":null,"padding":0,"symbolType":"M-3.5,0H3.5M0,-0.8V0.8","symbolSize":400,"symbolStrokeWidth":2,"symbolOpacity":1,"labelFontSize":25,"labelOffset":39,"labelLimit":0,"rowPadding":5}}}},
 {"data":{"name":"one"},"mark":{"type":"text","align":"left","baseline":"alphabetic","font":"Liberation Serif","fontSize":44,"color":"black","text":"Event rate"},
  "encoding":{"x":{"datum":32.7,"type":"quantitative","scale":{"domain":[0,1429],"nice":false,"zero":false},"axis":null},
   "y":{"datum":0.747,"type":"quantitative","scale":{"domain":[-4.0676,2.5],"nice":false,"zero":false},"axis":null}}},
 {"data":{"name":"one"},"mark":{"type":"text","align":"left","baseline":"alphabetic","font":"DejaVu Sans","fontSize":53.4,"color":"black","text":"ises 320 kA horn current (flux increase!)"},
  "encoding":{"x":{"datum":-159,"type":"quantitative","scale":{"domain":[0,1429],"nice":false,"zero":false},"axis":null},
   "y":{"datum":2.751,"type":"quantitative","scale":{"domain":[-4.0676,2.5],"nice":false,"zero":false},"axis":null}}},
 {"data":{"name":"arrow"},"mark":{"type":"line","color":"black","strokeWidth":3.5,"strokeCap":"round","strokeJoin":"round","interpolate":"catmull-rom"},
  "encoding":{"x":{"field":"day","type":"quantitative","scale":{"domain":[0,1429],"nice":false,"zero":false},"axis":null},
   "y":{"field":"rate","type":"quantitative","scale":{"domain":[-4.0676,2.5],"nice":false,"zero":false},"axis":null},"detail":{"field":"part"},"order":{"field":"k"}}}
],"resolve":{"axis":{"y":"independent"}}},
{"layer":[
 {"data":{"name":"one"},"mark":{"type":"rule","color":"black","strokeWidth":3},
  "encoding":{"y":{"datum":1,"type":"quantitative","scale":{"domain":[-3.0,3.0148],"nice":false,"zero":false},
   "axis":{"orient":"left","values":[-1,-0.9,-0.8,-0.7,-0.6,-0.5,-0.4,-0.3,-0.2,-0.1,0,0.1,0.2,0.3,0.4,0.5,0.6,0.7,0.8,0.9,1],"domain":false,"tickSize":-6,"tickWidth":2,"labels":false,"title":null}}}},
 {"data":{"name":"one"},"mark":{"type":"rule","color":"black","strokeWidth":4},
  "encoding":{"y":{"datum":0,"type":"quantitative","scale":{"domain":[-3.0,3.0148],"nice":false,"zero":false},
   "axis":{"orient":"left","values":[-0.5,0,0.5],"format":"~g","domain":false,"tickSize":-15,"tickWidth":2,"labels":true,"labelFontSize":32,"labelPadding":25,"title":"[mrad]","titleFont":"Liberation Serif","titleFontSize":26,"titleFontWeight":"normal","titleAngle":270,"titleX":-88,"titleY":324,"titleAlign":"center","titleBaseline":"middle"}}}},
 {"data":{"name":"h_ing"},"mark":{"type":"errorbar","color":"black","thickness":2,"ticks":{"size":7}},
  "encoding":{"x":{"field":"day","type":"quantitative","scale":{"domain":[0,1429],"nice":false,"zero":false},"axis":null},
   "y":{"field":"vlo","type":"quantitative","scale":{"domain":[-3.0,3.0148],"nice":false,"zero":false},"axis":null},"y2":{"field":"vhi"}}},
 {"data":{"name":"h_ing"},"mark":{"type":"errorbar","color":"black","thickness":2.5,"ticks":{"size":7}},
  "encoding":{"x":{"field":"lo","type":"quantitative","scale":{"domain":[0,1429],"nice":false,"zero":false},"axis":null},"x2":{"field":"hi"},
   "y":{"field":"val","type":"quantitative","scale":{"domain":[-3.0,3.0148],"nice":false,"zero":false},"axis":null}}},
 {"data":{"name":"h_ing"},"mark":{"type":"point","filled":true,"color":"black","size":28,"opacity":1},
  "encoding":{"x":{"field":"day","type":"quantitative","scale":{"domain":[0,1429],"nice":false,"zero":false},"axis":null},
   "y":{"field":"val","type":"quantitative","scale":{"domain":[-3.0,3.0148],"nice":false,"zero":false},"axis":null}}},
 {"data":{"name":"h_mum"},"mark":{"type":"errorbar","color":"#e8332a","thickness":2,"ticks":{"size":6}},
  "encoding":{"x":{"field":"lo","type":"quantitative","scale":{"domain":[0,1429],"nice":false,"zero":false},"axis":null},"x2":{"field":"hi"},
   "y":{"field":"val","type":"quantitative","scale":{"domain":[-3.0,3.0148],"nice":false,"zero":false},"axis":null}}},
 {"data":{"name":"h_mum"},"mark":{"type":"point","filled":false,"color":"#e8332a","size":45,"strokeWidth":2,"fill":"white","opacity":1},
  "encoding":{"x":{"field":"day","type":"quantitative","scale":{"domain":[0,1429],"nice":false,"zero":false},"axis":null},
   "y":{"field":"val","type":"quantitative","scale":{"domain":[-3.0,3.0148],"nice":false,"zero":false},"axis":null}}},
 {"data":{"name":"dets"},"transform":[{"filter":"datum.detector === 'INGRID'"}],"mark":{"type":"point","clip":true,"filled":false,"strokeWidth":2,"opacity":1},
  "encoding":{"x":{"datum":-300,"type":"quantitative","scale":{"domain":[0,1429],"nice":false,"zero":false},"axis":null},
   "y":{"datum":0,"type":"quantitative","scale":{"domain":[-3.0,3.0148],"nice":false,"zero":false},"axis":null},
   "color":{"field":"detector","type":"nominal","scale":{"domain":["INGRID"],"range":["black"]},
    "legend":{"orient":"none","legendX":1135,"legendY":276,"title":null,"padding":0,"symbolType":"M-2.1,0H2.1M0,-1.25V1.25M-0.45,-1.25H0.45M-0.45,1.25H0.45","symbolSize":400,"symbolStrokeWidth":2,"symbolOpacity":1,"labelFontSize":47,"labelOffset":6.5,"labelLimit":0}}}},
 {"data":{"name":"dets"},"transform":[{"filter":"datum.detector === 'MUMON'"}],"mark":{"type":"point","clip":true,"filled":false,"strokeWidth":2,"opacity":1,"color":"#e8332a"},
  "encoding":{"x":{"datum":-300,"type":"quantitative","scale":{"domain":[0,1429],"nice":false,"zero":false},"axis":null},
   "y":{"datum":0,"type":"quantitative","scale":{"domain":[-3.0,3.0148],"nice":false,"zero":false},"axis":null},
   "shape":{"field":"detector","type":"nominal","scale":{"domain":["MUMON"],"range":["M-2.1,0H-0.35M0.35,0H2.1M0.35,0A0.35,0.35 0 1 1 -0.35,0A0.35,0.35 0 1 1 0.35,0"]},
    "legend":{"orient":"none","legendX":1135,"legendY":317.5,"title":null,"padding":0,"symbolSize":400,"symbolStrokeWidth":2,"symbolStrokeColor":"#e8332a","symbolOpacity":1,"labelFontSize":47,"labelOffset":6.5,"labelLimit":0}}}},
 {"data":{"name":"one"},"mark":{"type":"text","align":"left","baseline":"alphabetic","font":"Liberation Serif","fontSize":37.5,"color":"black","text":"Horizontal beam direction"},
  "encoding":{"x":{"datum":13.4,"type":"quantitative","scale":{"domain":[0,1429],"nice":false,"zero":false},"axis":null},
   "y":{"datum":0.607,"type":"quantitative","scale":{"domain":[-3.0,3.0148],"nice":false,"zero":false},"axis":null}}}
],"resolve":{"axis":{"y":"independent"}}},
{"layer":[
 {"data":{"name":"one"},"mark":{"type":"rule","color":"black","strokeWidth":3},
  "encoding":{"y":{"datum":1,"type":"quantitative","scale":{"domain":[-1.0,5.0148],"nice":false,"zero":false},
   "axis":{"orient":"left","values":[-1,-0.9,-0.8,-0.7,-0.6,-0.5,-0.4,-0.3,-0.2,-0.1,0,0.1,0.2,0.3,0.4,0.5,0.6,0.7,0.8,0.9,1],"domain":false,"tickSize":-6,"tickWidth":2,"labels":false,"title":null}}}},
 {"data":{"name":"one"},"mark":{"type":"rule","color":"black","strokeWidth":4},
  "encoding":{"y":{"datum":0,"type":"quantitative","scale":{"domain":[-1.0,5.0148],"nice":false,"zero":false},
   "axis":{"orient":"left","values":[-0.5,0,0.5],"format":"~g","domain":false,"tickSize":-15,"tickWidth":2,"labels":true,"labelFontSize":32,"labelPadding":25,"title":"[mrad]","titleFont":"Liberation Serif","titleFontSize":26,"titleFontWeight":"normal","titleAngle":270,"titleX":-81,"titleY":594,"titleAlign":"center","titleBaseline":"middle"}}}},
 {"data":{"name":"v_ing"},"mark":{"type":"errorbar","color":"black","thickness":2,"ticks":{"size":7}},
  "encoding":{"x":{"field":"day","type":"quantitative","scale":{"domain":[0,1429],"nice":false,"zero":false},"axis":null},
   "y":{"field":"vlo","type":"quantitative","scale":{"domain":[-1.0,5.0148],"nice":false,"zero":false},"axis":null},"y2":{"field":"vhi"}}},
 {"data":{"name":"v_ing"},"mark":{"type":"errorbar","color":"black","thickness":2.5,"ticks":{"size":7}},
  "encoding":{"x":{"field":"lo","type":"quantitative","scale":{"domain":[0,1429],"nice":false,"zero":false},"axis":null},"x2":{"field":"hi"},
   "y":{"field":"val","type":"quantitative","scale":{"domain":[-1.0,5.0148],"nice":false,"zero":false},"axis":null}}},
 {"data":{"name":"v_ing"},"mark":{"type":"point","filled":true,"color":"black","size":28,"opacity":1},
  "encoding":{"x":{"field":"day","type":"quantitative","scale":{"domain":[0,1429],"nice":false,"zero":false},"axis":null},
   "y":{"field":"val","type":"quantitative","scale":{"domain":[-1.0,5.0148],"nice":false,"zero":false},"axis":null}}},
 {"data":{"name":"v_mum"},"mark":{"type":"errorbar","color":"#e8332a","thickness":2,"ticks":{"size":6}},
  "encoding":{"x":{"field":"lo","type":"quantitative","scale":{"domain":[0,1429],"nice":false,"zero":false},"axis":null},"x2":{"field":"hi"},
   "y":{"field":"val","type":"quantitative","scale":{"domain":[-1.0,5.0148],"nice":false,"zero":false},"axis":null}}},
 {"data":{"name":"v_mum"},"mark":{"type":"point","filled":false,"color":"#e8332a","size":45,"strokeWidth":2,"fill":"white","opacity":1},
  "encoding":{"x":{"field":"day","type":"quantitative","scale":{"domain":[0,1429],"nice":false,"zero":false},"axis":null},
   "y":{"field":"val","type":"quantitative","scale":{"domain":[-1.0,5.0148],"nice":false,"zero":false},"axis":null}}},
 {"data":{"name":"dets"},"transform":[{"filter":"datum.detector === 'INGRID'"}],"mark":{"type":"point","clip":true,"filled":false,"strokeWidth":2,"opacity":1},
  "encoding":{"x":{"datum":-300,"type":"quantitative","scale":{"domain":[0,1429],"nice":false,"zero":false},"axis":null},
   "y":{"datum":0,"type":"quantitative","scale":{"domain":[-1.0,5.0148],"nice":false,"zero":false},"axis":null},
   "color":{"field":"detector","type":"nominal","scale":{"domain":["INGRID"],"range":["black"]},
    "legend":{"orient":"none","legendX":1135,"legendY":547,"title":null,"padding":0,"symbolType":"M-2.1,0H2.1M0,-1.25V1.25M-0.45,-1.25H0.45M-0.45,1.25H0.45","symbolSize":400,"symbolStrokeWidth":2,"symbolOpacity":1,"labelFontSize":44,"labelOffset":6.5,"labelLimit":0}}}},
 {"data":{"name":"dets"},"transform":[{"filter":"datum.detector === 'MUMON'"}],"mark":{"type":"point","clip":true,"filled":false,"strokeWidth":2,"opacity":1,"color":"#e8332a"},
  "encoding":{"x":{"datum":-300,"type":"quantitative","scale":{"domain":[0,1429],"nice":false,"zero":false},"axis":null},
   "y":{"datum":0,"type":"quantitative","scale":{"domain":[-1.0,5.0148],"nice":false,"zero":false},"axis":null},
   "shape":{"field":"detector","type":"nominal","scale":{"domain":["MUMON"],"range":["M-2.1,0H-0.35M0.35,0H2.1M0.35,0A0.35,0.35 0 1 1 -0.35,0A0.35,0.35 0 1 1 0.35,0"]},
    "legend":{"orient":"none","legendX":1135,"legendY":587,"title":null,"padding":0,"symbolSize":400,"symbolStrokeWidth":2,"symbolStrokeColor":"#e8332a","symbolOpacity":1,"labelFontSize":44,"labelOffset":6.5,"labelLimit":0}}}},
 {"data":{"name":"one"},"mark":{"type":"text","align":"left","baseline":"alphabetic","font":"Liberation Serif","fontSize":42,"color":"black","text":"Vertical beam direction"},
  "encoding":{"x":{"datum":14.75,"type":"quantitative","scale":{"domain":[0,1429],"nice":false,"zero":false},"axis":null},
   "y":{"datum":0.607,"type":"quantitative","scale":{"domain":[-1.0,5.0148],"nice":false,"zero":false},"axis":null}}}
],"resolve":{"axis":{"y":"independent"}}},
{"data":{"name":"vlines"},"mark":{"type":"rule","opacity":0},
 "encoding":{"x":{"field":"day","type":"quantitative","scale":{"domain":[0,1429],"nice":false,"zero":false},
  "axis":{"orient":"top","offset":0,"values":[4.5,276.8,549.1,821.4,1093.7,1366],"domain":true,"domainWidth":3,"tickSize":-9,"tickWidth":2,"labels":false,"title":null}}}},
{"data":{"name":"vlines"},"mark":{"type":"rule","opacity":0},
 "encoding":{"x":{"field":"day","type":"quantitative","scale":{"domain":[0,1429],"nice":false,"zero":false},
  "axis":{"orient":"top","offset":0,"values":[4.5,72.6,140.7,208.7,276.8,344.9,413,481,549.1,617.2,685.3,753.3,821.4,889.5,957.6,1025.6,1093.7,1161.8,1229.9,1297.9,1366],"domain":false,"tickSize":-5,"tickWidth":2,"labels":false,"title":null}}}},
{"data":{"name":"vlines"},"mark":{"type":"rule","opacity":0},
 "encoding":{"x":{"field":"day","type":"quantitative","scale":{"domain":[0,1429],"nice":false,"zero":false},
  "axis":{"orient":"bottom","offset":-548,"values":[4.5,276.8,549.1,821.4,1093.7,1366],"domain":false,"tickSize":16,"tickWidth":2,"labels":false,"title":null}}}},
{"data":{"name":"vlines"},"mark":{"type":"rule","opacity":0},
 "encoding":{"x":{"field":"day","type":"quantitative","scale":{"domain":[0,1429],"nice":false,"zero":false},
  "axis":{"orient":"bottom","offset":-545,"values":[4.5,72.6,140.7,208.7,276.8,344.9,413,481,549.1,617.2,685.3,753.3,821.4,889.5,957.6,1025.6,1093.7,1161.8,1229.9,1297.9,1366],"domain":false,"tickSize":10,"tickWidth":2,"labels":false,"title":null}}}},
{"data":{"name":"vlines"},"mark":{"type":"rule","opacity":0},
 "encoding":{"x":{"field":"day","type":"quantitative","scale":{"domain":[0,1429],"nice":false,"zero":false},
  "axis":{"orient":"bottom","offset":-278,"values":[4.5,276.8,549.1,821.4,1093.7,1366],"domain":false,"tickSize":16,"tickWidth":2,"labels":false,"title":null}}}},
{"data":{"name":"vlines"},"mark":{"type":"rule","opacity":0},
 "encoding":{"x":{"field":"day","type":"quantitative","scale":{"domain":[0,1429],"nice":false,"zero":false},
  "axis":{"orient":"bottom","offset":-275,"values":[4.5,72.6,140.7,208.7,276.8,344.9,413,481,549.1,617.2,685.3,753.3,821.4,889.5,957.6,1025.6,1093.7,1161.8,1229.9,1297.9,1366],"domain":false,"tickSize":10,"tickWidth":2,"labels":false,"title":null}}}},
{"data":{"name":"vlines"},"mark":{"type":"rule","opacity":0},
 "encoding":{"x":{"field":"day","type":"quantitative","scale":{"domain":[0,1429],"nice":false,"zero":false},
  "axis":{"orient":"bottom","offset":0,"values":[4.5,276.8,549.1,821.4,1093.7,1366],"domain":true,"domainWidth":3,"tickSize":-9,"tickWidth":2,"labels":false,"title":"Date","titleFont":"Liberation Serif","titleFontSize":15,"titleFontWeight":"normal","titleX":1409,"titleY":13,"titleAlign":"left","titleBaseline":"alphabetic","titleAngle":0}}}},
{"data":{"name":"vlines"},"mark":{"type":"rule","opacity":0},
 "encoding":{"x":{"field":"day","type":"quantitative","scale":{"domain":[0,1429],"nice":false,"zero":false},
  "axis":{"orient":"bottom","offset":0,"values":[4.5,72.6,140.7,208.7,276.8,344.9,413,481,549.1,617.2,685.3,753.3,821.4,889.5,957.6,1025.6,1093.7,1161.8,1229.9,1297.9,1366],"domain":false,"tickSize":-5,"tickWidth":2,"labels":false,"title":null}}}},
{"data":{"name":"vlines"},"mark":{"type":"rule","color":"black","strokeWidth":2.5,"strokeDash":[10,7]},
 "encoding":{"x":{"field":"day","type":"quantitative","scale":{"domain":[0,1429],"nice":false,"zero":false},"axis":null}}}
],
"resolve":{"scale":{"y":"independent","color":"independent","shape":"independent"},"axis":{"x":"independent","y":"independent"},"legend":{"color":"independent","shape":"independent"}}
}
